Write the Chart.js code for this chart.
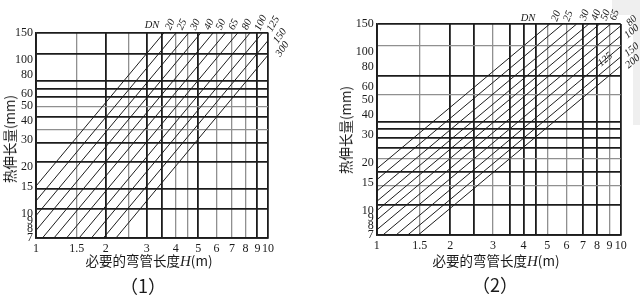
<!DOCTYPE html>
<html>
<head>
<meta charset="utf-8">
<script src="https://cdn.jsdelivr.net/npm/chart.js@4.4.1/dist/chart.umd.min.js"></script>
<style>
  html, body { margin: 0; padding: 0; background: #fff; }
  #page { position: relative; width: 640px; height: 303px; overflow: hidden; }
  .box { position: absolute; top: 0; width: 320px; height: 303px; }
  .t { position: absolute; color: #1a1a1a; white-space: nowrap; transform: translate(-50%, -50%); }
  .cjk { font-family: "Noto Sans CJK SC", sans-serif; font-size: 13.5px; }
  .ser { font-family: "Liberation Serif", serif; }
  .yt { transform: translate(-50%, -50%) rotate(-90deg); }
  .shade { position: absolute; background: #efefef; }
</style>
</head>
<body>
<div id="page">
  <div class="shade" style="left:612px;top:0;width:28px;height:15px"></div>
  <div class="shade" style="left:633px;top:0;width:7px;height:125px"></div>

  <div class="box" style="left:0"><canvas id="c1"></canvas></div>
  <div class="box" style="left:320px"><canvas id="c2"></canvas></div>

  <div class="t cjk yt" style="left:9px;top:139px">热伸长量(mm)</div>
  <div class="t cjk" style="left:149px;top:260px">必要的弯管长度<i class="ser" style="font-size:15px">H</i>(m)</div>
  <div class="t cjk" style="left:143px;top:285px;font-size:18px">（1）</div>
  <div class="t ser" style="left:152px;top:24px;font-size:10.5px;font-style:italic">DN</div>

  <div class="t cjk yt" style="left:345px;top:130px">热伸长量(mm)</div>
  <div class="t cjk" style="left:496px;top:260px">必要的弯管长度<i class="ser" style="font-size:15px">H</i>(m)</div>
  <div class="t cjk" style="left:495px;top:284px;font-size:18px">（2）</div>
  <div class="t ser" style="left:528px;top:17px;font-size:10.5px;font-style:italic">DN</div>
</div>
<script>
// tick labels (same on both charts)
const xLabels = [1, 1.5, 2, 3, 4, 5, 6, 7, 8, 9, 10];
const yLabels = [7, 8, 9, 10, 15, 20, 30, 40, 50, 60, 80, 100, 150];

// chart (1)
const dn1 = ['20', '25', '30', '40', '50', '65', '80', '100', '125', '150', '300'];
const lineStart1 = [[1, 15.1], [1, 12.1], [1, 9.71], [1, 7.78], [1.07, 7], [1.2, 7], [1.36, 7], [1.54, 7], [1.74, 7], [1.96, 7], [2.22, 7]];
const lineEnd1 = [[3.57, 150], [4.03, 150], [4.56, 150], [5.15, 150], [5.82, 150], [6.58, 150], [7.43, 150], [8.4, 150], [9.49, 150], [10, 133], [10, 107]];
const xGrid1 = [1, 1.5, 2, 2.5, 3, 3.5, 4, 4.5, 5, 6, 7, 8, 9, 10];
const xLight1 = [1.5, 2.5, 4, 4.5, 6, 7, 8];
const yGrid1 = [7, 10.7, 14.4, 21.6, 28.9, 35.3, 42.6, 49.5, 57.2, 64.2, 72.7, 108.8, 150];
const yLight1 = [35.3, 49.5];

// chart (2)
const dn2 = ['20', '25', '30', '40', '50', '65', '80', '100', '125', '150', '200'];
const lineStart2 = [[1, 18.3], [1, 15.6], [1, 13.2], [1, 11.4], [1, 9.96], [1, 8.71], [1, 7.54], [1.06, 7], [1.2, 7], [1.34, 7], [1.48, 7]];
const lineEnd2 = [[5.12, 150], [5.79, 150], [6.6, 150], [7.4, 150], [8.2, 150], [9.1, 150], [10, 146], [10, 126], [10, 108], [10, 93], [10, 81.5]];
const xGrid2 = [1, 1.5, 2, 2.5, 3, 3.5, 4, 4.5, 5, 6, 7, 8, 9, 10];
const xLight2 = [1.5, 3, 5, 6, 9];
const yGrid2 = [7, 10.8, 14.3, 17.6, 21.3, 24.9, 28.5, 32.5, 36.3, 53.8, 70.2, 109, 150];
const yLight2 = [14.3, 21.3, 53.8, 109];

// where each DN label sits relative to the line's upper end: [dx, dy, angle]
const place1 = [[6, -8, -65], [5.5, -8, -65], [6.5, -8, -65], [8, -8, -65], [7.5, -8, -65], [8, -8, -65], [9, -8, -65],
                [10.5, -9.5, -65], [10.5, -8.5, -60], [12, -4.5, -55], [14.5, -6, -55]];
const place2 = [[6.5, -8, -70], [5.5, -8, -70], [8, -9, -70], [7.5, -9, -70], [6, -9, -70], [4, -9, -70], [11, -5, -45],
                [11, -4.5, -40], [-15.5, 13, -40], [11, -7, -40], [12, -4.5, -40]];

const dark = '#1c1c1c';
const light = '#909090';

const lineLabels = {
  id: 'lineLabels',
  afterDatasetsDraw(chart, args, opts) {
    const ctx = chart.ctx;
    ctx.save();
    ctx.font = 'italic 10.5px "Liberation Serif"';
    ctx.fillStyle = '#1a1a1a';
    ctx.textAlign = 'center';
    ctx.textBaseline = 'middle';
    chart.data.datasets.forEach((ds, i) => {
      const p = chart.getDatasetMeta(i).data[1];
      const [dx, dy, rot] = opts.place[i];
      ctx.save();
      ctx.translate(p.x + dx, p.y + dy);
      ctx.rotate(rot * Math.PI / 180);
      ctx.fillText(ds.label, 0, 0);
      ctx.restore();
    });
    ctx.restore();
  }
};

function uniq(a, b) {
  return [...new Set([...a, ...b])].sort((p, q) => p - q);
}

function buildChart(id, dn, starts, ends, xGrid, xLight, yGrid, yLight, place, pad, yWidth, xHeight) {
  const datasets = dn.map((d, i) => ({
    label: d,
    data: [{ x: starts[i][0], y: starts[i][1] }, { x: ends[i][0], y: ends[i][1] }],
    borderColor: dark,
    borderWidth: 1,
    pointRadius: 0,
    fill: false
  }));
  const xTicks = uniq(xGrid, xLabels);
  const yTicks = uniq(yGrid, yLabels);

  return new Chart(document.getElementById(id), {
    type: 'line',
    data: { datasets: datasets },
    plugins: [lineLabels],
    options: {
      responsive: true,
      maintainAspectRatio: false,
      animation: false,
      devicePixelRatio: 1,
      layout: { padding: pad },
      plugins: {
        legend: { display: false },
        tooltip: { enabled: false },
        lineLabels: { place: place }
      },
      scales: {
        x: {
          type: 'logarithmic',
          min: 1,
          max: 10,
          afterFit: s => { s.height = xHeight; },
          afterBuildTicks: s => { s.ticks = xTicks.map(v => ({ value: v })); },
          border: { display: true, color: dark, width: 1.8 },
          grid: {
            drawTicks: false,
            color: c => !xGrid.includes(c.tick.value) ? 'rgba(0,0,0,0)' : (xLight.includes(c.tick.value) ? light : dark),
            lineWidth: c => xLight.includes(c.tick.value) ? 1.3 : 1.8
          },
          ticks: {
            autoSkip: false,
            maxRotation: 0,
            padding: 4,
            color: '#1a1a1a',
            font: { family: 'Liberation Serif', size: 12 },
            callback: v => xLabels.includes(v) ? String(v) : ''
          }
        },
        y: {
          type: 'logarithmic',
          min: 7,
          max: 150,
          afterFit: s => { s.width = yWidth; },
          afterBuildTicks: s => { s.ticks = yTicks.map(v => ({ value: v })); },
          border: { display: true, color: dark, width: 1.8 },
          grid: {
            drawTicks: false,
            color: c => !yGrid.includes(c.tick.value) ? 'rgba(0,0,0,0)' : (yLight.includes(c.tick.value) ? light : dark),
            lineWidth: c => yLight.includes(c.tick.value) ? 1.3 : 1.8
          },
          ticks: {
            autoSkip: false,
            padding: 3,
            color: '#1a1a1a',
            font: { family: 'Liberation Serif', size: 12 },
            callback: v => yLabels.includes(v) ? String(v) : ''
          }
        }
      }
    }
  });
}

buildChart('c1', dn1, lineStart1, lineEnd1, xGrid1, xLight1, yGrid1, yLight1, place1,
  { left: 0, right: 52, top: 32.5, bottom: 0 }, 36, 65.5);
buildChart('c2', dn2, lineStart2, lineEnd2, xGrid2, xLight2, yGrid2, yLight2, place2,
  { left: 0, right: 19.3, top: 24, bottom: 0 }, 56.7, 68);
</script>
</body>
</html>
